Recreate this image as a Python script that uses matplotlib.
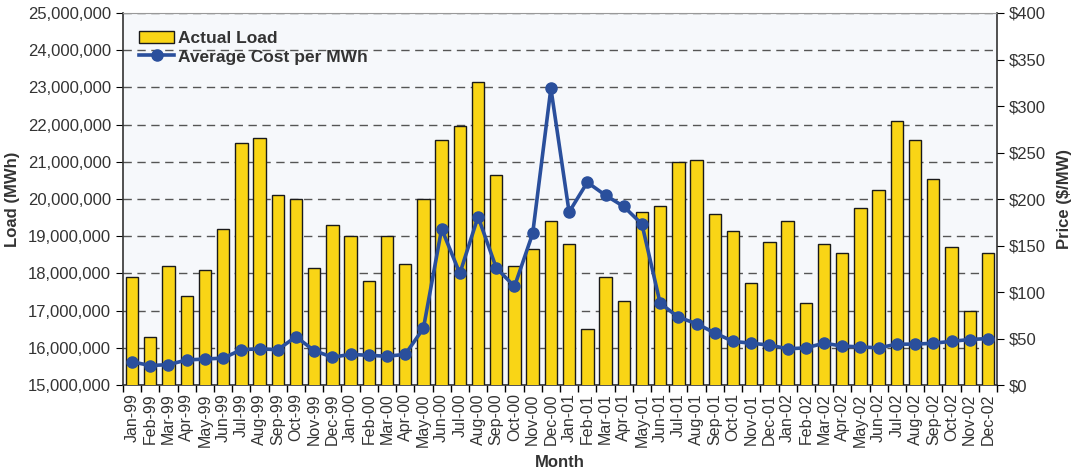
import numpy as np
import matplotlib
matplotlib.use("Agg")
from matplotlib import pyplot as plt
from matplotlib.ticker import FuncFormatter

plt.rcParams['font.family'] = ['Liberation Sans', 'DejaVu Sans']

months = ['Jan', 'Feb', 'Mar', 'Apr', 'May', 'Jun',
          'Jul', 'Aug', 'Sep', 'Oct', 'Nov', 'Dec']
years = ['99', '00', '01', '02']
labels = [m + '-' + y for y in years for m in months]

# monthly load, millions of MWh
load_mwh = [17.9, 16.3, 18.2, 17.4, 18.1, 19.2, 21.5, 21.65, 20.1, 20.0, 18.15, 19.3,
            19.0, 17.8, 19.0, 18.25, 20.0, 21.6, 21.95, 23.15, 20.65, 18.2, 18.65, 19.4,
            18.8, 16.5, 17.9, 17.25, 19.65, 19.8, 21.0, 21.05, 19.6, 19.15, 17.75, 18.85,
            19.4, 17.2, 18.8, 18.55, 19.75, 20.25, 22.1, 21.6, 20.55, 18.7, 17.0, 18.55]

# average cost, $/MWh
avg_cost = [25, 21, 22, 27, 28, 29, 38, 39, 38, 52, 37, 30,
            33, 32, 31, 33, 61, 168, 120, 181, 126, 106, 163, 319,
            186, 218, 204, 192, 173, 88, 73, 66, 56, 47, 45, 43,
            39, 40, 45, 42, 41, 40, 44, 44, 45, 47, 49, 50]

x = np.arange(len(labels))
load = np.array(load_mwh) * 1e6

fig = plt.figure(figsize=(10.73, 4.76), dpi=100)
ax1 = fig.add_axes([0.1146, 0.191, 0.8146, 0.7817])
ax1.set_facecolor('#f6f8fb')

bars = ax1.bar(x, load, width=0.68, color='#f9d516', edgecolor='#1a1a1a',
               linewidth=1.0, zorder=3, label='Actual Load')
ax1.set_ylim(15e6, 25e6)
ax1.set_xlim(-0.5, len(labels) - 0.5)
ax1.set_yticks(np.arange(15e6, 25e6 + 1, 1e6))
ax1.yaxis.set_major_formatter(FuncFormatter(lambda v, p: '{:,.0f}'.format(v)))
ax1.yaxis.grid(True, linestyle=(0, (6, 4)), color='#555555', linewidth=1.0, zorder=0)
ax1.set_axisbelow(True)

ax1.set_xticks(x)
ax1.set_xticklabels(labels, rotation=90, fontsize=11.5, color='#333333')
ax1.set_xticks(np.arange(-0.5, len(labels), 1), minor=True)
ax1.tick_params(axis='x', which='major', length=0, pad=6)
ax1.tick_params(axis='x', which='minor', length=5, width=1.0, direction='out')
ax1.tick_params(axis='y', labelsize=12, labelcolor='#333333', length=5, direction='out')

ax1.set_ylabel('Load (MWh)', fontsize=12, fontweight='bold', color='#333333', labelpad=6)
ax1.set_xlabel('Month', fontsize=12, fontweight='bold', color='#333333', labelpad=6)

for s in ['left', 'bottom', 'right']:
    ax1.spines[s].set_color('#333333')
    ax1.spines[s].set_linewidth(1.2)
ax1.spines['top'].set_color('#999999')

ax2 = ax1.twinx()
line, = ax2.plot(x, avg_cost, '-o', color='#2a4f9c', linewidth=2.6,
                 markersize=8, zorder=4, label='Average Cost per MWh')
ax2.set_ylim(0, 400)
ax2.set_yticks(np.arange(0, 401, 50))
ax2.yaxis.set_major_formatter(FuncFormatter(lambda v, p: '${:,.0f}'.format(v)))
ax2.tick_params(axis='y', labelsize=12, labelcolor='#333333', length=5, direction='out')
ax2.set_ylabel('Price ($/MW)', fontsize=12, fontweight='bold', color='#333333', labelpad=8)
for s in ['left', 'bottom', 'right', 'top']:
    ax2.spines[s].set_visible(False)

leg = ax1.legend([bars, line], ['Actual Load', 'Average Cost per MWh'],
                 loc='upper left', bbox_to_anchor=(0.005, 0.985), frameon=False,
                 prop={'size': 12.5, 'weight': 'bold'}, handlelength=2.0,
                 handletextpad=0.2, labelspacing=0.2, borderaxespad=0.3)
for t in leg.get_texts():
    t.set_color('#333333')
leg.set_zorder(10)

fig.savefig('out.png', dpi=100, facecolor='white')
